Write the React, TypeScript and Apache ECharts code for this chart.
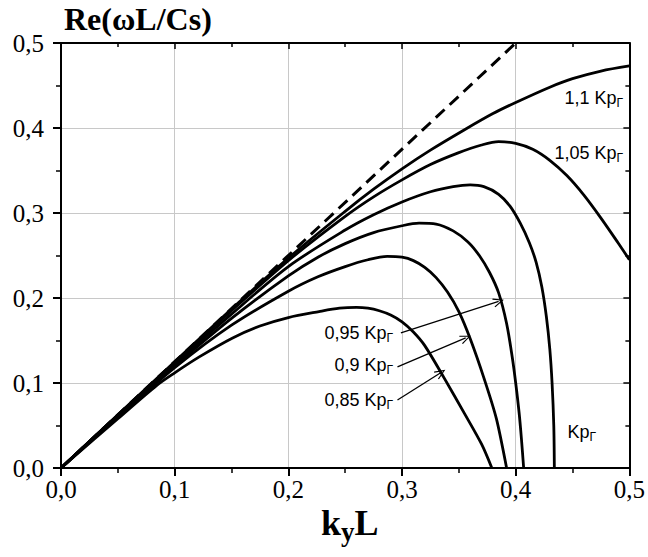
import React, { useEffect, useRef } from "react";
import * as echarts from "echarts";

// ---- data ----
const xTickLabels = ["0,0", "0,1", "0,2", "0,3", "0,4", "0,5"];
const yTickLabels = ["0,0", "0,1", "0,2", "0,3", "0,4", "0,5"];

const asymptote = [[0, 0], [0.4, 0.5]];

const curve085 = [
  [0, 0], [0.05, 0.058], [0.084, 0.097], [0.1, 0.112], [0.122, 0.131], [0.151, 0.153],
  [0.175, 0.167], [0.2, 0.177], [0.227, 0.184], [0.245, 0.188], [0.26, 0.189], [0.27, 0.188],
  [0.28, 0.185], [0.29, 0.18], [0.3, 0.172], [0.31, 0.16], [0.32, 0.144], [0.337, 0.106],
  [0.355, 0.064], [0.37, 0.028], [0.379, 0],
];
const curve090 = [
  [0, 0], [0.05, 0.06], [0.1, 0.118], [0.15, 0.168], [0.2, 0.208], [0.226, 0.225], [0.25, 0.237],
  [0.27, 0.245], [0.287, 0.249], [0.3, 0.248], [0.31, 0.244], [0.32, 0.236], [0.33, 0.224],
  [0.34, 0.207], [0.35, 0.184], [0.36, 0.152], [0.372, 0.106], [0.383, 0.058], [0.392, 0],
];
const curve095 = [
  [0, 0], [0.05, 0.061], [0.1, 0.12], [0.15, 0.176], [0.2, 0.226], [0.226, 0.248], [0.25, 0.264],
  [0.275, 0.277], [0.3, 0.285], [0.315, 0.288], [0.33, 0.287], [0.345, 0.279], [0.358, 0.266],
  [0.368, 0.25], [0.377, 0.23], [0.385, 0.206], [0.392, 0.17], [0.397, 0.13], [0.4, 0.1],
  [0.403, 0.065], [0.405, 0.035], [0.407, 0],
];
const curve100 = [
  [0, 0], [0.05, 0.062], [0.1, 0.122], [0.15, 0.181], [0.2, 0.237], [0.25, 0.28], [0.275, 0.298],
  [0.3, 0.313], [0.325, 0.325], [0.345, 0.331], [0.36, 0.333], [0.372, 0.331], [0.385, 0.322],
  [0.395, 0.308], [0.404, 0.288], [0.412, 0.265], [0.418, 0.242], [0.423, 0.213], [0.427, 0.178],
  [0.43, 0.14], [0.432, 0.1], [0.4335, 0.05], [0.434, 0],
];
const curve105 = [
  [0, 0], [0.05, 0.062], [0.1, 0.124], [0.15, 0.185], [0.2, 0.244], [0.25, 0.296], [0.275, 0.319],
  [0.3, 0.339], [0.325, 0.357], [0.35, 0.371], [0.37, 0.38], [0.385, 0.384], [0.4, 0.382],
  [0.415, 0.375], [0.43, 0.362], [0.445, 0.344], [0.46, 0.321], [0.475, 0.294], [0.49, 0.265],
  [0.5, 0.245],
];
const curve110 = [
  [0, 0], [0.05, 0.0625], [0.1, 0.125], [0.15, 0.187], [0.2, 0.247], [0.25, 0.302], [0.275, 0.328],
  [0.3, 0.352], [0.325, 0.374], [0.355, 0.398], [0.38, 0.417], [0.4, 0.43], [0.43, 0.448],
  [0.45, 0.458], [0.475, 0.467], [0.5, 0.473],
];

// arrows: [start, end] in data coordinates
const arrows = [
  [[0.299, 0.159], [0.385, 0.196]],
  [[0.296, 0.119], [0.356, 0.153]],
  [[0.296, 0.08], [0.334, 0.112]],
];

const curves = [curve085, curve090, curve095, curve100, curve105, curve110];

const SERIF = "Liberation Serif";
const SANS = "Liberation Sans";

const chevron = "path://M0,10 L5,0 L10,10 L8.9,10.6 L5,2.4 L1.1,10.6 Z";

export default function App() {
  const ref = useRef<HTMLDivElement>(null);
  useEffect(() => {
    if (!ref.current) return;
    const chart = echarts.init(ref.current, null, { renderer: "svg" });
    const tickFmt = (labels: string[]) => (v: number) => {
      const i = Math.round(v * 10);
      return labels[i] ?? "";
    };
    const baseAxis = {
      type: "value" as const,
      min: 0,
      max: 0.5,
      interval: 0.1,
      axisLine: { show: true, onZero: false, lineStyle: { color: "#000", width: 2 } },
      minorTick: { show: true, splitNumber: 2, length: 5, lineStyle: { color: "#000", width: 1.5 } },
    };
    const tickLabel = (labels: string[], margin: number) => ({
      formatter: tickFmt(labels),
      fontFamily: SERIF,
      fontSize: 25,
      color: "#000",
      margin,
    });
    const subRich = { fontSize: 12, fontFamily: SANS, color: "#000", padding: [10, 0, 0, 0] };
    const lbl = (text: string, x: number, y: number) => ({
      type: "text",
      x,
      y,
      style: {
        text,
        align: "right",
        verticalAlign: "middle",
        fontFamily: SANS,
        fontSize: 18,
        fill: "#000",
        rich: { s: subRich, m: { fontSize: 18, fontFamily: SANS, color: "#000" } },
      },
    });
    chart.setOption({
      animation: false,
      backgroundColor: "#fff",
      textStyle: { fontFamily: SERIF },
      grid: { left: 61, right: 14, top: 43, bottom: 89 },
      xAxis: [
        {
          ...baseAxis,
          position: "bottom",
          axisTick: { show: true, length: 8, lineStyle: { color: "#000", width: 2 } },
          splitLine: { show: true, lineStyle: { color: "#c8c8c8", width: 1 } },
          axisLabel: tickLabel(xTickLabels, 9),
        },
        {
          ...baseAxis,
          position: "top",
          axisTick: { show: true, inside: true, length: 6, lineStyle: { color: "#000", width: 1.5 } },
          minorTick: { show: true, splitNumber: 2, length: 4, lineStyle: { color: "#000", width: 1.5 } },
          splitLine: { show: false },
          axisLabel: { show: false },
        },
      ],
      yAxis: [
        {
          ...baseAxis,
          position: "left",
          axisTick: { show: true, length: 8, lineStyle: { color: "#000", width: 2 } },
          splitLine: { show: true, lineStyle: { color: "#c8c8c8", width: 1 } },
          axisLabel: tickLabel(yTickLabels, 17),
        },
        {
          ...baseAxis,
          position: "right",
          axisTick: { show: true, inside: true, length: 6, lineStyle: { color: "#000", width: 1.5 } },
          minorTick: { show: true, splitNumber: 2, length: 4, lineStyle: { color: "#000", width: 1.5 } },
          splitLine: { show: false },
          axisLabel: { show: false },
        },
      ],
      series: [
        {
          type: "line",
          data: asymptote,
          showSymbol: false,
          lineStyle: { color: "#000", width: 3, type: [12, 7] },
          markLine: {
            silent: true,
            symbol: ["none", chevron],
            symbolSize: [9, 11],
            lineStyle: { color: "#000", width: 1.3, type: "solid" },
            label: { show: false },
            data: arrows.map(([a, b]) => [{ coord: a }, { coord: b }]),
          },
        },
        ...curves.map((c) => ({
          type: "line",
          data: c,
          showSymbol: false,
          smooth: 0.3,
          lineStyle: { color: "#000", width: 2.8 },
        })),
      ],
      graphic: [
        {
          type: "text",
          left: 64,
          top: 3,
          style: {
            text: "Re(ωL/Cs)",
            fontFamily: SERIF,
            fontWeight: "bold",
            fontSize: 32,
            fill: "#000",
          },
        },
        {
          type: "text",
          x: 321,
          y: 523,
          style: {
            text: "k{sub|y}L",
            verticalAlign: "middle",
            fontFamily: SERIF,
            fontWeight: "bold",
            fontSize: 36,
            fill: "#000",
            rich: {
              sub: { fontFamily: SERIF, fontWeight: "bold", fontSize: 27, color: "#000", padding: [17, 0, 0, 0] },
            },
          },
        },
        lbl("{m|1,1 Kp}{s|Г}", 623, 98),
        lbl("{m|1,05 Kp}{s|Г}", 623, 153),
        lbl("{m|0,95 Kp}{s|Г}", 393, 333),
        lbl("{m|0,9 Kp}{s|Г}", 393, 365),
        lbl("{m|0,85 Kp}{s|Г}", 393, 400),
        lbl("{m|Kp}{s|Г}", 596, 432),
      ],
    });
    return () => chart.dispose();
  }, []);
  return <div ref={ref} style={{ width: 648, height: 557, position: "absolute", left: 0, top: 0 }} />;
}
